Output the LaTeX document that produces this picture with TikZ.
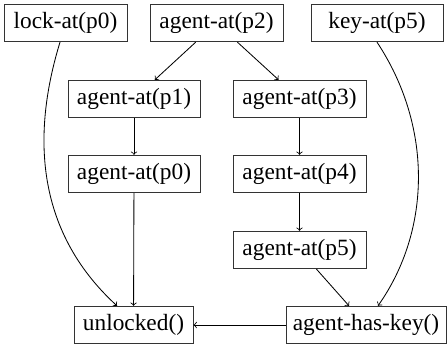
\documentclass[tikz,border=0pt]{standalone}
\usepackage{fontspec}
\setmainfont{Liberation Serif}
\begin{document}
\begin{tikzpicture}[->,x=0.6pt,y=-0.6pt]
        \tikzstyle{fact}=[rectangle,draw=black!80,line width=0.6pt,inner sep=0pt,minimum height=22.4pt,font=\fontsize{14}{16}\selectfont]
        \tikzstyle{edge}=[draw, line width=0.5pt]
       \useasboundingbox (0,0) rectangle (447,350);
       \begin{scope}
         \node [fact,minimum width=73.8pt] (lock0) at (65.5,23) {lock-at(p0)};
         \node [fact,minimum width=79.8pt] (agent2) at (216.5,23) {agent-at(p2)};
         \node [fact,minimum width=79.2pt] (key5) at (377,23) {key-at(p5)};
         \node [fact,minimum width=79.2pt] (agent1) at (134,99) {agent-at(p1)};
         \node [fact,minimum width=79.8pt] (agent3) at (299.5,99) {agent-at(p3)};
         \node [fact,minimum width=79.2pt] (agent0) at (134,174) {agent-at(p0)};
         \node [fact,minimum width=79.8pt] (agent4) at (299.5,174) {agent-at(p4)};
         \node [fact,minimum width=79.8pt] (agent5) at (299.5,250) {agent-at(p5)};
         \node [fact,minimum width=71.4pt] (unlocked) at (133.5,325) {unlocked()};
         \node [fact,minimum width=96pt] (haskey) at (366,325) {agent-has-key()};

         \path[edge] (agent2) edge (agent1);
         \path[edge] (agent2) edge (agent3);
         \path[edge] (agent1) edge (agent0);
         \path[edge] (agent3) edge (agent4);
         \path[edge] (agent4) edge (agent5);
         \path[edge] (agent0) edge (unlocked);
         \path[edge] (agent5) edge (haskey);
         \path[edge] (haskey) edge (unlocked);
         \path[edge] ([xshift=-3.3pt]lock0.south) .. controls +(-27,88) and +(-84,-77) .. ([xshift=-9.9pt]unlocked.north);
         \path[edge] (key5.south) .. controls +(55,83) and +(54,-77) .. ([xshift=7.2pt]haskey.north);
        \end{scope}
      \end{tikzpicture}
\end{document}
